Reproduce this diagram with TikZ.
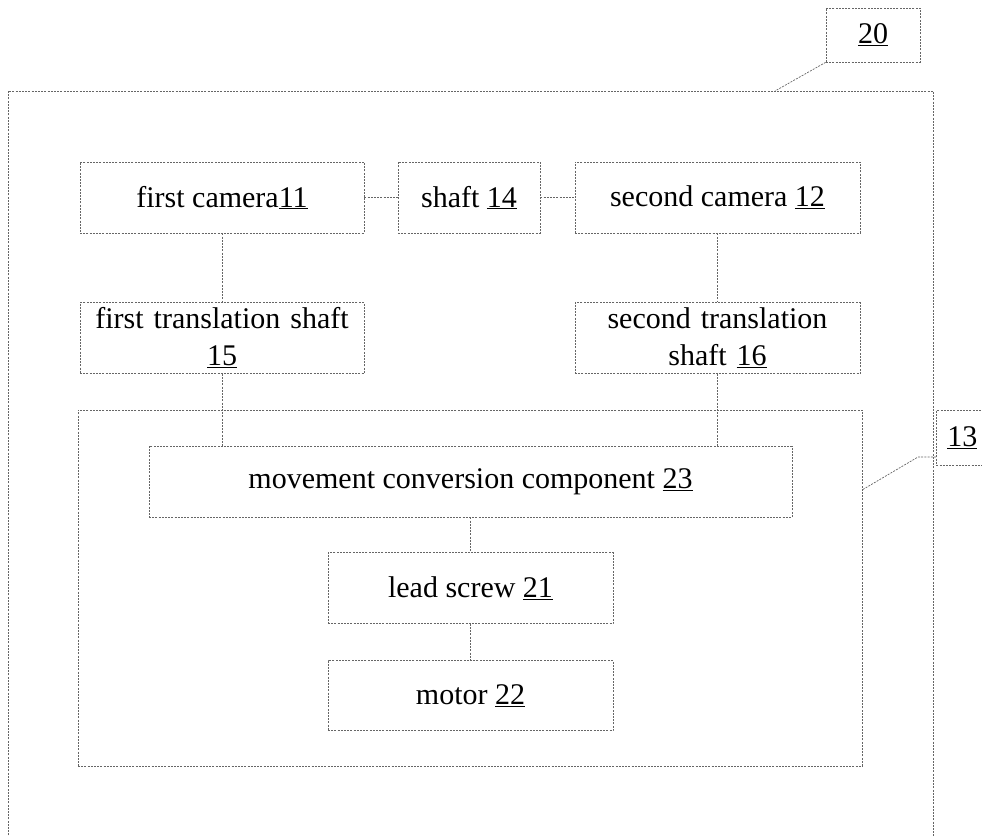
\documentclass[tikz,border=0pt]{standalone}
\usepackage{fontspec}
\setmainfont{Liberation Serif}
\begin{document}
\begin{tikzpicture}[x=1pt,y=-1pt,
  dl/.style={draw=black!60,line width=0.7pt,dash pattern=on 2pt off 1.2pt},
  blk/.style={dl,rectangle,align=center,inner sep=0pt,font=\fontsize{30}{37}\selectfont}]
\useasboundingbox (0,0) rectangle (982,835);
% outer box 20 (open at bottom)
\draw[dl] (8,845) -- (8,91) -- (933,91) -- (933,845);
\node[blk,minimum width=94pt,minimum height=54pt] (l20) at (873,35) {\underline{20}};
\coordinate (p20) at (775,91);
\draw[dl] (l20.south west) -- (p20);
% inner box 13
\node[dl,rectangle,minimum width=784pt,minimum height=356pt,inner sep=0pt] (b13) at (470,588) {};
\node[blk,minimum width=54pt,minimum height=55pt,anchor=north west,text width=54pt,align=left] (l13) at (936,410) {\hspace{11pt}\underline{13}};
\coordinate (k13) at (918,457);
\coordinate (q13) at (862,490);
\draw[dl] (l13.west |- k13) -- (k13) -- (q13);
% blocks
\node[blk,minimum width=284pt,minimum height=71pt] (c11) at (222,197.5) {first camera\underline{11}};
\node[blk,minimum width=142pt,minimum height=71pt] (s14) at (469,197.5) {shaft \underline{14}};
\node[blk,minimum width=285pt,minimum height=71pt] (c12) at (717.5,197.5) {second camera \underline{12}};
\node[blk,minimum width=284pt,minimum height=71pt,text width=284pt] (t15) at (222,338) {first translation shaft\\\underline{15}};
\node[blk,minimum width=285pt,minimum height=71pt,text width=285pt] (t16) at (717.5,338) {second translation\\shaft \underline{16}};
\node[blk,minimum width=643pt,minimum height=71pt] (m23) at (470.5,481.5) {movement conversion component \underline{23}};
\node[blk,minimum width=285pt,minimum height=71pt] (l21) at (470.5,588) {lead screw \underline{21}};
\node[blk,minimum width=285pt,minimum height=70pt] (m22) at (470.5,695.5) {motor \underline{22}};
% connectors
\draw[dl] (c11) -- (s14);
\draw[dl] (s14) -- (c12);
\draw[dl] (c11) -- (t15);
\draw[dl] (c12) -- (t16);
\draw[dl] (t15.south) -- (t15.south |- m23.north);
\draw[dl] (t16.south) -- (t16.south |- m23.north);
\draw[dl] (m23) -- (l21);
\draw[dl] (l21) -- (m22);
\end{tikzpicture}
\end{document}
